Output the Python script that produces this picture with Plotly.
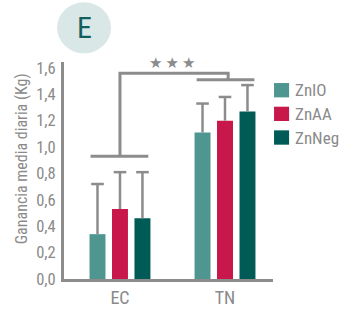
import plotly.graph_objects as go

# Data
groups = ["EC", "TN"]
series = ["ZnIO", "ZnAA", "ZnNeg"]
means = {
    "ZnIO": [0.34, 1.11],
    "ZnAA": [0.53, 1.20],
    "ZnNeg": [0.46, 1.27],
}
errors = {
    "ZnIO": [0.38, 0.22],
    "ZnAA": [0.28, 0.18],
    "ZnNeg": [0.35, 0.20],
}
colors = {"ZnIO": "#4f9590", "ZnAA": "#c8174b", "ZnNeg": "#005b57"}
y_ticks = [0.0, 0.2, 0.4, 0.6, 0.8, 1.0, 1.2, 1.4, 1.6]
y_tick_text = ["0,0", "0,2", "0,4", "0,6", "0,8", "1,0", "1,2", "1,4", "1,6"]
# significance bracket levels (EC group, TN group, top)
bracket_levels = [0.93, 1.51, 1.56]
sig_label = "★\u2009★\u2009★"
panel_letter = "E"
y_title = "Ganancia media diaria (Kg)"

FONT = "Roboto Condensed"
GREY = "#8c8c8c"
TXT = "#8a8a8a"

group_pos = [0, 1]
bar_width = 0.152
bar_step = 0.214

fig = go.Figure()
for i, s in enumerate(series):
    off = (i - 1) * bar_step
    xs = [g + off for g in group_pos]
    tops = [m + e for m, e in zip(means[s], errors[s])]
    fig.add_trace(go.Bar(
        x=xs, y=means[s], name=s, width=bar_width,
        marker=dict(color=colors[s], line=dict(width=0)),
        error_y=dict(type="data", array=errors[s], arrayminus=[0, 0],
                     symmetric=False, color=GREY, thickness=2.5, width=0),
        showlegend=False,
    ))
    # cap on top of each error whisker
    fig.add_trace(go.Scatter(
        x=xs, y=tops, mode="markers", showlegend=False, hoverinfo="skip",
        marker=dict(symbol="line-ew-open", size=9, color=GREY,
                    line=dict(color=GREY, width=2.5)),
    ))

line = dict(color=GREY, width=3)
ec_y, tn_y, top_y = bracket_levels
# group brackets
fig.add_shape(type="line", x0=-0.28, x1=0.27, y0=ec_y, y1=ec_y, line=line)
fig.add_shape(type="line", x0=0.73, x1=1.28, y0=tn_y, y1=tn_y, line=line)
# connecting path
fig.add_shape(type="path",
              path=f"M 0,{ec_y} L 0,{top_y} L 1.03,{top_y} L 1.03,{tn_y}",
              line=line)
fig.add_annotation(x=0.5, y=1.64, text=sig_label, showarrow=False,
                   font=dict(size=15, color=GREY, family="DejaVu Sans"),
                   xanchor="center", yanchor="middle")

# panel letter badge
fig.add_shape(type="circle", xref="paper", yref="paper",
              x0=-0.033, x1=0.225, y0=1.04, y1=1.275,
              fillcolor="#d9e8e6", line=dict(width=0), layer="below")
fig.add_annotation(xref="paper", yref="paper", x=0.096, y=1.158,
                   text=panel_letter, showarrow=False,
                   font=dict(size=30, color="#135f5b", family=FONT),
                   xanchor="center", yanchor="middle")

# y-axis title
fig.add_annotation(xref="paper", yref="paper", x=-0.205, y=0.552,
                   text=y_title, textangle=-90, showarrow=False,
                   font=dict(size=16, color=TXT, family=FONT),
                   xanchor="center", yanchor="middle")

# legend
leg_y = [0.870, 0.761, 0.652]
for s, yy in zip(series, leg_y):
    fig.add_shape(type="rect", xref="paper", yref="paper",
                  x0=1.005, x1=1.077, y0=yy - 0.033, y1=yy + 0.033,
                  fillcolor=colors[s], line=dict(width=0))
    fig.add_annotation(xref="paper", yref="paper", x=1.094, y=yy,
                       text=s, showarrow=False, xanchor="left",
                       yanchor="middle",
                       font=dict(size=17, color=TXT, family=FONT))

fig.update_layout(
    width=340, height=320,
    margin=dict(l=64, r=67, t=62, b=28),
    paper_bgcolor="white", plot_bgcolor="white",
    barmode="overlay",
    font=dict(family=FONT, color=TXT, size=16),
    xaxis=dict(range=[-0.533, 1.457], tickvals=group_pos, ticktext=groups,
               showline=True, linecolor=GREY, linewidth=3, ticks="",
               showgrid=False, zeroline=False,
               tickfont=dict(size=18, color=TXT, family=FONT)),
    yaxis=dict(range=[0, 1.645], tickvals=y_ticks, ticktext=y_tick_text,
               showline=True, linecolor=GREY, linewidth=3, ticks="",
               showgrid=False, zeroline=False, ticklabelstandoff=2,
               tickfont=dict(size=16.5, color=TXT, family=FONT)),
)

fig.write_html("out.html")
